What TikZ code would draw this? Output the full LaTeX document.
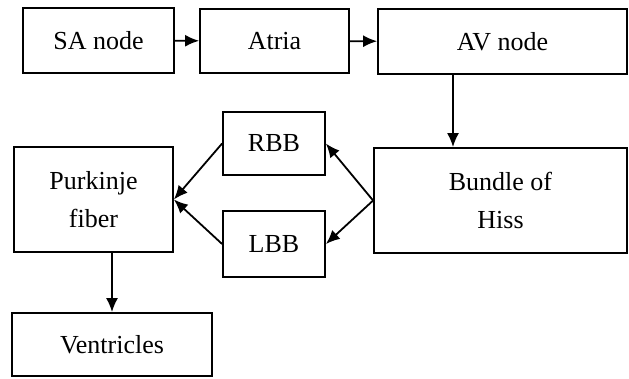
\documentclass[tikz,border=0pt]{standalone}
\usepackage{fontspec}
\setmainfont{Liberation Serif}
\usetikzlibrary{arrows,shapes,positioning,arrows.meta}

\begin{document}
\begin{tikzpicture}[x=1pt,y=-1pt,
        box/.style={draw,rectangle,line width=1.8pt,inner sep=0pt,align=center,
            font=\fontsize{26}{38}\selectfont},
        link/.style={line width=1.8pt,-{Latex[length=14pt,width=12pt]}}]
        \useasboundingbox (0,0) rectangle (629,378);
        % Top row
        \node[box,minimum width=151pt,minimum height=65pt] (sa) at (98.5,40.5) {SA node};
        \node[box,minimum width=149pt,minimum height=64pt] (atria) at (274.5,41) {Atria};
        \node[box,minimum width=249pt,minimum height=65pt] (av) at (502.5,41.5) {AV node};

        % Bundle branches
        \node[box,minimum width=253pt,minimum height=105pt] (hiss) at (500.5,200.5) {Bundle of\\Hiss};
        \node[box,minimum width=102pt,minimum height=63pt] (rbb) at (274,143.5) {RBB};
        \node[box,minimum width=102pt,minimum height=66pt] (lbb) at (274,244) {LBB};

        % Left column
        \node[box,minimum width=159pt,minimum height=105pt] (purkinje) at (93.5,199.5) {Purkinje\\fiber};
        \node[box,minimum width=200pt,minimum height=63pt] (ventricles) at (112,344.5) {Ventricles};

        % Arrows
        \draw[link] (sa) -- (atria);
        \draw[link] (atria) -- (av);
        \draw[link] ([xshift=-49.5pt]av.south) -- ([xshift=-49.5pt]av.south |- hiss.north);
        \foreach \b in {rbb,lbb} {
            \draw[link] (hiss.west) -- (\b.east);
            \draw[link] (\b.west) -- (purkinje.east);
        }
        \draw[link] (ventricles.north |- purkinje.south) -- (ventricles.north);
    \end{tikzpicture}
\end{document}
